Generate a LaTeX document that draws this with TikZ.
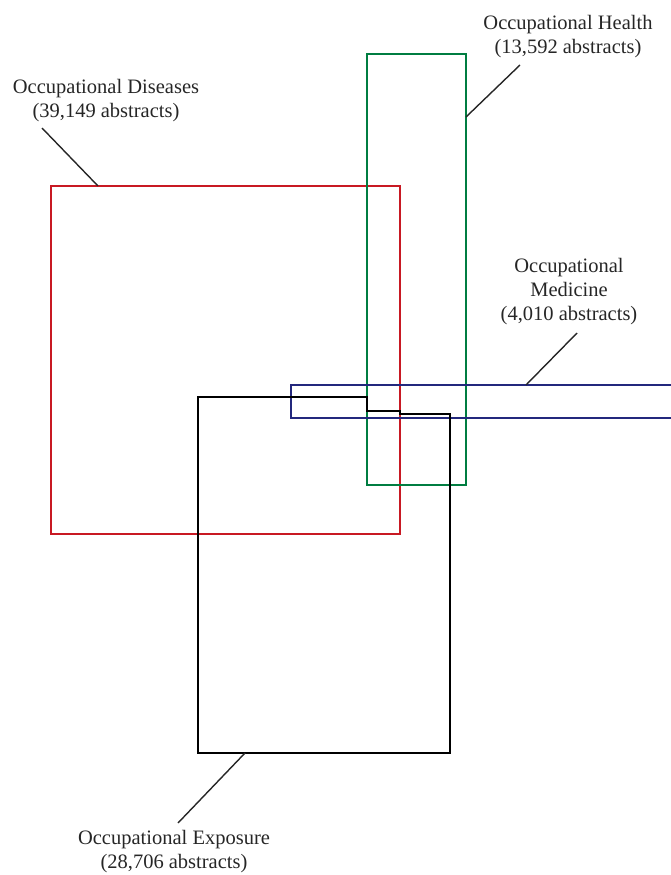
\documentclass[tikz,border=0pt]{standalone}
\usepackage{fontspec}
\setmainfont{Liberation Serif}
\definecolor{disred}{RGB}{200,25,35}
\definecolor{hltgreen}{RGB}{0,125,65}
\definecolor{medblue}{RGB}{35,40,125}
\tikzset{
    setbox/.style={line width=2.2pt},
    setlabel/.style={align=center, text=black!85, font=\fontsize{20.5}{24}\selectfont},
    leader/.style={line width=1.4pt, black!85}
}
\begin{document}
\begin{tikzpicture}[x=1pt, y=-1pt]
        \useasboundingbox (0,0) rectangle (670,875);

        % ---- set boxes ----
        \draw[setbox, disred] (51,186) rectangle (400,534);
        \draw[setbox, hltgreen] (367,54) rectangle (466,485);
        \draw[setbox, medblue] (672,385) -- (291,385) -- (291,418) -- (672,418);
        \draw[setbox, black]
            (198,397) -- (367,397) -- (367,411) -- (400,411) -- (400,414)
            -- (450,414) -- (450,753) -- (198,753) -- cycle;

        % ---- labels ----
        \node[setlabel] (dis) at (106,101) {Occupational Diseases\\(39,149 abstracts)};
        \node[setlabel] (hlt) at (568,37) {Occupational Health\\(13,592 abstracts)};
        \node[setlabel] (med) at (569,292) {Occupational\\Medicine\\(4,010 abstracts)};
        \node[setlabel] (exp) at (174,852) {Occupational Exposure\\(28,706 abstracts)};

        % ---- leader lines (label -> box edge) ----
        \coordinate (disstart) at (42,128);
        \coordinate (disend) at (98,186);
        \coordinate (hltstart) at (520,65);
        \coordinate (hltend) at (466,117);
        \coordinate (medstart) at (577,333);
        \coordinate (medend) at (526,385);
        \coordinate (expstart) at (178,823);
        \coordinate (expend) at (245,753);
        \draw[leader] (disstart) -- (disend);
        \draw[leader] (hltstart) -- (hltend);
        \draw[leader] (medstart) -- (medend);
        \draw[leader] (expstart) -- (expend);
    \end{tikzpicture}
\end{document}
